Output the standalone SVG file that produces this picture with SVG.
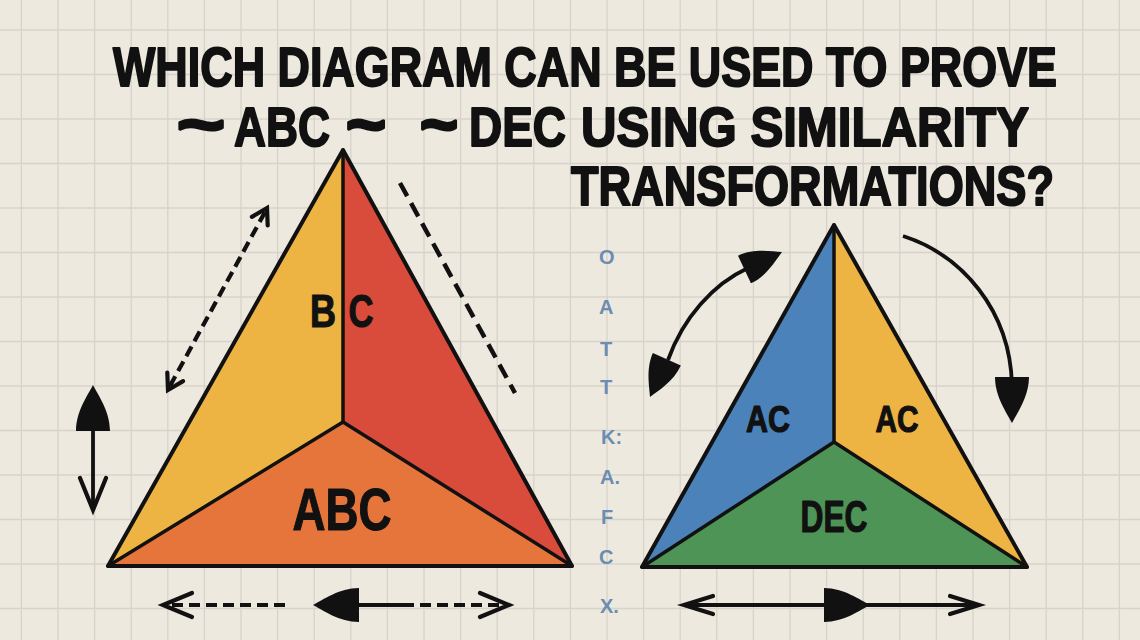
<svg xmlns="http://www.w3.org/2000/svg" xmlns:xlink="http://www.w3.org/1999/xlink" width="1140" height="640" viewBox="0 0 1140 640">
<style>
.bg{fill:#EEE9DF}
.grid{stroke:#D8D3CA;stroke-width:1.3;fill:none}
.title{font-family:"Liberation Sans",Arial,sans-serif;font-weight:bold;fill:#111;stroke:#111;stroke-width:2;stroke-linejoin:round}
.tilde{font-family:"Liberation Sans",Arial,sans-serif;font-weight:bold;fill:#111;stroke:#111;stroke-width:3;stroke-linejoin:round}
.lbl{font-family:"Liberation Sans",Arial,sans-serif;font-weight:bold;fill:#111;stroke:#111;stroke-width:1.2;stroke-linejoin:round;text-anchor:middle}
.side{font-family:"Liberation Sans",Arial,sans-serif;font-weight:bold;fill:#6B8DB1;font-size:20px}
.edge{stroke:#111;stroke-width:4;stroke-linejoin:round;fill:none}
.inner{stroke:#111;stroke-width:3.5;stroke-linejoin:round;stroke-linecap:round;fill:none}
.ln{stroke:#111;stroke-width:3.8;fill:none}
.dash{stroke:#111;stroke-width:4.2;fill:none;stroke-dasharray:11 6}
.dash2{stroke:#111;stroke-width:4.5;fill:none;stroke-dasharray:15 8}
.chev{stroke:#111;stroke-width:4.2;fill:none;stroke-linecap:round;stroke-linejoin:miter}
.head{fill:#111}
</style>
<defs>
<path id="spade" d="M0,0 C5,10 17,26 17,46 L-17,46 C-17,26 -5,10 0,0 Z"/>
</defs>
<rect class="bg" x="0" y="0" width="1140" height="640"/>
<path class="grid" d="M21.4 0V640M58 0V640M94.6 0V640M131.2 0V640M167.8 0V640M204.4 0V640M241 0V640M277.6 0V640M314.2 0V640M350.8 0V640M387.4 0V640M424 0V640M460.6 0V640M497.2 0V640M533.8 0V640M570.4 0V640M607 0V640M643.6 0V640M680.2 0V640M716.8 0V640M753.4 0V640M790 0V640M826.6 0V640M863.2 0V640M899.8 0V640M936.4 0V640M973 0V640M1009.6 0V640M1046.2 0V640M1082.8 0V640M1119.4 0V640M0 30H1140M0 74.5H1140M0 119H1140M0 163.5H1140M0 208H1140M0 252.5H1140M0 297H1140M0 341.5H1140M0 386H1140M0 430.5H1140M0 475H1140M0 519.5H1140M0 564H1140M0 608.5H1140"/>

<g id="title">
<text class="title" x="113" y="86" font-size="56" textLength="944" lengthAdjust="spacingAndGlyphs">WHICH DIAGRAM CAN BE USED TO PROVE</text>
<text class="tilde" x="177" y="146" font-size="64" textLength="48" lengthAdjust="spacingAndGlyphs">~</text>
<text class="title" x="234" y="146" font-size="56" textLength="96" lengthAdjust="spacingAndGlyphs">ABC</text>
<text class="tilde" x="346" y="146" font-size="64" textLength="40" lengthAdjust="spacingAndGlyphs">~</text>
<text class="tilde" x="420" y="146" font-size="64" textLength="38" lengthAdjust="spacingAndGlyphs">~</text>
<text class="title" x="469" y="146" font-size="56" textLength="97" lengthAdjust="spacingAndGlyphs">DEC</text>
<text class="title" x="581" y="146" font-size="56" textLength="448" lengthAdjust="spacingAndGlyphs">USING SIMILARITY</text>
<text class="title" x="571" y="205" font-size="56" textLength="483" lengthAdjust="spacingAndGlyphs">TRANSFORMATIONS?</text>
</g>

<g id="triangle-abc">
<polygon points="343,150 108,566 343,422" fill="#EDB443"/>
<polygon points="343,150 572,566 343,422" fill="#D94B3B"/>
<polygon points="108,566 572,566 343,422" fill="#E5753A"/>
<polyline class="inner" points="343,150 343,422"/>
<polyline class="inner" points="108,566 343,422 572,566"/>
<polygon class="edge" points="343,150 108,566 572,566"/>
<text class="lbl" x="323" y="327" font-size="47" textLength="26" lengthAdjust="spacingAndGlyphs">B</text>
<text class="lbl" x="361" y="327" font-size="47" textLength="25" lengthAdjust="spacingAndGlyphs">C</text>
<text class="lbl" x="342" y="530" font-size="60" textLength="99" lengthAdjust="spacingAndGlyphs">ABC</text>
</g>

<g id="triangle-dec">
<polygon points="834,225 642,567 834,442" fill="#4A82B9"/>
<polygon points="834,225 1027,567 834,442" fill="#EDB443"/>
<polygon points="642,567 1027,567 834,442" fill="#4E9456"/>
<polyline class="inner" points="834,225 834,442"/>
<polyline class="inner" points="642,567 834,442 1027,567"/>
<polygon class="edge" points="834,225 642,567 1027,567"/>
<text class="lbl" x="768" y="432" font-size="36" textLength="44" lengthAdjust="spacingAndGlyphs">AC</text>
<text class="lbl" x="897" y="432" font-size="36" textLength="43" lengthAdjust="spacingAndGlyphs">AC</text>
<text class="lbl" x="834" y="532" font-size="44" textLength="67" lengthAdjust="spacingAndGlyphs">DEC</text>
</g>

<g id="letter-column">
<text class="side" x="599" y="264">O</text>
<text class="side" x="599" y="314">A</text>
<text class="side" x="600" y="356">T</text>
<text class="side" x="600" y="394">T</text>
<text class="side" x="601" y="444">K:</text>
<text class="side" x="600" y="484">A.</text>
<text class="side" x="601" y="524">F</text>
<text class="side" x="599" y="564">C</text>
<text class="side" x="600" y="613">X.</text>
</g>

<g id="connectors">
<line class="dash" x1="170" y1="386" x2="265" y2="212"/>
<polyline class="chev" points="251.9,216.9 267,208 267.7,225.5"/>
<polyline class="chev" points="167.3,372.5 168,390 183.1,381.1"/>
<line class="dash2" x1="400" y1="183" x2="515" y2="393"/>
<use href="#spade" class="head" transform="translate(93,385)"/>
<line class="ln" x1="93" y1="428" x2="93" y2="508"/>
<polyline class="chev" points="80,478 93,510 106,478"/>
<polyline class="chev" points="192,593 163,605 192,617"/>
<line class="dash" x1="172" y1="605" x2="287" y2="605"/>
<use href="#spade" class="head" transform="translate(313,605) rotate(-90)"/>
<line class="ln" x1="355" y1="605" x2="403" y2="605"/>
<line class="dash" x1="403" y1="605" x2="500" y2="605"/>
<polyline class="chev" points="480,593 509,605 480,617"/>
<polyline class="chev" points="713,596 684,605 713,614"/>
<line class="ln" x1="688" y1="605" x2="976" y2="605"/>
<use href="#spade" class="head" transform="translate(870,605) rotate(90)"/>
<polyline class="chev" points="950,596 979,605 950,614"/>
<path class="ln" d="M748,268 C713,284 683,318 668,360"/>
<use href="#spade" class="head" transform="translate(782,252) rotate(65) scale(0.9)"/>
<use href="#spade" class="head" transform="translate(650,397) rotate(204) scale(0.9)"/>
<path class="ln" d="M903,236 C962,255 1010,310 1012,385"/>
<use href="#spade" class="head" transform="translate(1012,423) rotate(180)"/>
</g>
</svg>
